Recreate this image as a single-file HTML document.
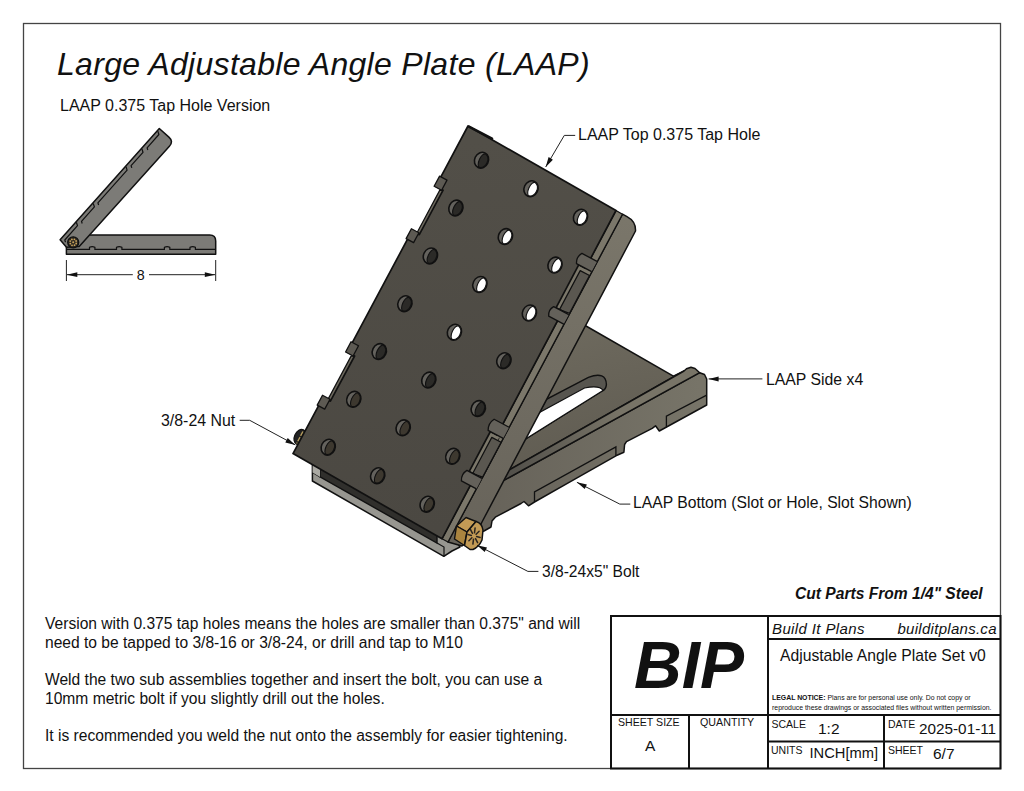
<!DOCTYPE html>
<html><head><meta charset="utf-8">
<style>
html,body{margin:0;padding:0;background:#fff;}
body{width:1024px;height:791px;position:relative;overflow:hidden;font-family:"Liberation Sans",sans-serif;color:#111;}
.t{position:absolute;white-space:nowrap;line-height:1;}
svg{position:absolute;left:0;top:0;}
</style></head><body>
<svg width="1024" height="791" viewBox="0 0 1024 791">
<rect x="23.5" y="23.5" width="977" height="745" fill="none" stroke="#444" stroke-width="1.3"/>
<defs><linearGradient id="bpg" x1="0" y1="0" x2="0.3" y2="1"><stop offset="0" stop-color="#716d61"/><stop offset="1" stop-color="#5f5b51"/></linearGradient><linearGradient id="fg" gradientUnits="userSpaceOnUse" x1="0" y1="140" x2="0" y2="530"><stop offset="0" stop-color="#524f48"/><stop offset="1" stop-color="#4b4842"/></linearGradient><linearGradient id="upg" gradientUnits="userSpaceOnUse" x1="0" y1="220" x2="0" y2="540"><stop offset="0" stop-color="#7a766a"/><stop offset="1" stop-color="#67635a"/></linearGradient><linearGradient id="rfg" gradientUnits="userSpaceOnUse" x1="700" y1="0" x2="490" y2="0"><stop offset="0" stop-color="#777468"/><stop offset="1" stop-color="#67635a"/></linearGradient><linearGradient id="rtg" gradientUnits="userSpaceOnUse" x1="500" y1="0" x2="620" y2="0"><stop offset="0" stop-color="#4f4d48"/><stop offset="1" stop-color="#787467"/></linearGradient></defs>
<polygon points="560.0,312.0 586.0,326.0 673.4,376.2 684.0,371.0 470.0,492.1 440.0,480.0" fill="url(#bpg)" stroke="#111" stroke-width="1.5" stroke-linejoin="round"/>
<path d="M524,440 L546.4,399.3 L588.4,377.3 Q606,371 606.4,384.6 Q606,389 603,390.5 Z" fill="#57554f" stroke="#111" stroke-width="1.4"/>
<path d="M524,440 L538.6,413 L584.5,388 Q600,385 603,390.5 Z" fill="#fff" stroke="#111" stroke-width="1.2"/>
<polygon points="699.7,372.7 704.5,374.5 706.7,379.0 706.7,405.0 659.3,431.0 655.5,425.8 652.2,428.3 626.5,441.6 624.6,444.5 623.9,452.2 615.9,455.8 570.0,481.8 534.5,502.0 528.5,505.8 524.0,501.5 521.0,503.5 495.3,517.2 492.0,521.0 491.0,527.0 484.0,531.0 470.0,535.0 470.0,499.0" fill="url(#rfg)" stroke="#111" stroke-width="1.5" stroke-linejoin="round"/>
<polygon points="684.0,371.0 686.5,368.8 691.0,367.2 695.0,368.5 699.7,372.7 470.0,499.0 470.0,492.1" fill="url(#rtg)" stroke="#111" stroke-width="1.5" stroke-linejoin="round"/>
<polyline points="706.2,395.4 666.4,416.2 666.4,427.4" fill="none" stroke="#111" stroke-width="1.3"/>
<polyline points="615.9,455.8 615.9,446.9 534.5,492.0 534.5,502.0" fill="none" stroke="#111" stroke-width="1.3"/>
<ellipse cx="300" cy="437" rx="5.5" ry="8" transform="rotate(25 300 437)" fill="#222" stroke="#111" stroke-width="1.2"/>
<path d="M303,431.5 L296.8,443.5" fill="none" stroke="#b39a5c" stroke-width="1.6" stroke-dasharray="5,1.2"/>
<polygon points="312.4,465.2 312.4,481.0 443.8,556.3 452.0,551.0 460.0,547.0 450.0,530.0 330.0,462.0" fill="#979690" stroke="#111" stroke-width="1.5" stroke-linejoin="round"/>
<polygon points="320.0,468.0 437.0,534.9 437.0,543.0 320.0,476.9" fill="#302f2c" stroke="#111" stroke-width="1.4"/>
<polyline points="312.6,472.6 320.0,476.9" fill="none" stroke="#111" stroke-width="1.2"/>
<polyline points="437.0,543.0 444.0,547.0 444.0,556.4" fill="none" stroke="#111" stroke-width="1.2"/>
<polygon points="312.6,465.6 320.0,467.5 320.0,476.9 312.6,472.6" fill="#aaa9a3"/>
<path d="M622.5,214.2 L627,216.7 Q636,221.5 635.5,231 L482,522 L475,536 L462,546 L448,542 Z" fill="url(#upg)" stroke="#111" stroke-width="1.5" stroke-linejoin="round"/>
<polygon points="616.0,210.5 622.5,214.2 448.0,542.0 442.0,538.8" fill="#7b776a" stroke="#111" stroke-width="1.3" stroke-linejoin="round"/>
<polygon points="580.6,272.3 587.6,275.3 566.3,313.7 559.3,310.7" fill="#55524b" stroke="#111" stroke-width="1.2" stroke-linejoin="round"/>
<polygon points="492.0,435.0 499.0,438.0 477.0,477.0 470.0,474.0" fill="#55524b" stroke="#111" stroke-width="1.2" stroke-linejoin="round"/>
<polygon points="589.8,266.4 563.5,316.0 553.3,310.6 579.6,261.0" fill="#7b776a"/>
<polygon points="589.5,275.5 569.5,313.3 559.5,309.6 580.2,270.6" fill="#5a5750" stroke="#111" stroke-width="1.2" stroke-linejoin="round"/>
<polygon points="501.4,433.2 476.7,479.8 466.5,474.4 491.2,427.8" fill="#7b776a"/>
<polygon points="501.1,442.3 482.6,477.1 472.7,473.5 491.8,437.4" fill="#5a5750" stroke="#111" stroke-width="1.2" stroke-linejoin="round"/>
<polygon points="439.8,190.1 417.4,232.0 421.3,235.8 445.1,191.2" fill="#6e6a5f" stroke="#111" stroke-width="1.2" stroke-linejoin="round"/>
<polygon points="351.2,355.9 328.5,398.4 332.4,402.2 356.5,357.0" fill="#6e6a5f" stroke="#111" stroke-width="1.2" stroke-linejoin="round"/>
<polygon points="468.0,126.0 616.0,210.5 590.8,258.1 585.4,268.3 578.7,264.8 556.0,307.8 562.6,311.3 557.5,320.8 502.9,423.9 497.0,435.1 490.4,431.5 469.1,471.6 475.8,475.1 470.2,485.6 442.0,538.8 293.0,453.6 318.9,405.1 323.1,397.3 330.4,401.2 354.6,356.0 347.2,352.0 351.6,343.9 407.8,238.7 412.0,230.8 419.3,234.7 443.1,190.2 435.8,186.3 440.2,178.1" fill="url(#fg)" stroke="#111" stroke-width="1.7" stroke-linejoin="round"/>
<polyline points="469.0,126.6 492.0,138.6" fill="none" stroke="#111" stroke-width="2.6" stroke-linecap="round"/>
<path d="M597.0,261.4 L581.9,253.4 Q576.1,256.9 576.5,263.6 L591.6,271.6" fill="#64615a" stroke="#111" stroke-width="1.3" stroke-linejoin="round"/>
<path d="M568.8,314.6 L553.7,306.6 Q548.1,309.7 548.7,316.1 L563.7,324.1" fill="#64615a" stroke="#111" stroke-width="1.3" stroke-linejoin="round"/>
<path d="M509.1,427.2 L494.1,419.2 Q488.0,423.2 488.1,430.4 L503.2,438.3" fill="#64615a" stroke="#111" stroke-width="1.3" stroke-linejoin="round"/>
<path d="M481.9,478.4 L466.9,470.4 Q461.0,474.0 461.4,480.9 L476.4,488.9" fill="#64615a" stroke="#111" stroke-width="1.3" stroke-linejoin="round"/>
<polygon points="439.6,176.1 434.1,186.2 441.6,190.2 447.0,180.1" fill="#5d5a53" stroke="#111" stroke-width="1.3" stroke-linejoin="round"/>
<polygon points="411.4,228.8 406.1,238.6 413.6,242.6 418.9,232.8" fill="#5d5a53" stroke="#111" stroke-width="1.3" stroke-linejoin="round"/>
<polygon points="351.0,341.8 345.6,352.0 353.1,356.0 358.5,345.8" fill="#5d5a53" stroke="#111" stroke-width="1.3" stroke-linejoin="round"/>
<polygon points="322.5,395.2 317.2,405.1 324.7,409.1 330.0,399.2" fill="#5d5a53" stroke="#111" stroke-width="1.3" stroke-linejoin="round"/>
<g transform="translate(481.5,160.2) rotate(25)"><ellipse rx="6.9" ry="8.1" fill="#64625d" stroke="#111" stroke-width="1.6"/><path d="M1.2,-7.4 A6.3,7.6 0 0 1 1.2,7.4 A3.4,7.4 0 0 1 1.2,-7.4 Z" fill="#2b2a27" stroke="#111" stroke-width="1.1"/></g>
<g transform="translate(531.0,188.7) rotate(25)"><ellipse rx="6.9" ry="8.1" fill="#64625d" stroke="#111" stroke-width="1.6"/><path d="M1.2,-7.4 A6.3,7.6 0 0 1 1.2,7.4 A3.4,7.4 0 0 1 1.2,-7.4 Z" fill="#fff" stroke="#111" stroke-width="1.1"/></g>
<g transform="translate(580.5,217.2) rotate(25)"><ellipse rx="6.9" ry="8.1" fill="#64625d" stroke="#111" stroke-width="1.6"/><path d="M1.2,-7.4 A6.3,7.6 0 0 1 1.2,7.4 A3.4,7.4 0 0 1 1.2,-7.4 Z" fill="#fff" stroke="#111" stroke-width="1.1"/></g>
<g transform="translate(455.9,208.0) rotate(25)"><ellipse rx="6.9" ry="8.1" fill="#64625d" stroke="#111" stroke-width="1.6"/><path d="M1.2,-7.4 A6.3,7.6 0 0 1 1.2,7.4 A3.4,7.4 0 0 1 1.2,-7.4 Z" fill="#2b2a27" stroke="#111" stroke-width="1.1"/></g>
<g transform="translate(505.4,236.5) rotate(25)"><ellipse rx="6.9" ry="8.1" fill="#64625d" stroke="#111" stroke-width="1.6"/><path d="M1.2,-7.4 A6.3,7.6 0 0 1 1.2,7.4 A3.4,7.4 0 0 1 1.2,-7.4 Z" fill="#fff" stroke="#111" stroke-width="1.1"/></g>
<g transform="translate(555.0,265.0) rotate(25)"><ellipse rx="6.9" ry="8.1" fill="#64625d" stroke="#111" stroke-width="1.6"/><path d="M1.2,-7.4 A6.3,7.6 0 0 1 1.2,7.4 A3.4,7.4 0 0 1 1.2,-7.4 Z" fill="#fff" stroke="#111" stroke-width="1.1"/></g>
<g transform="translate(430.4,255.9) rotate(25)"><ellipse rx="6.9" ry="8.1" fill="#64625d" stroke="#111" stroke-width="1.6"/><path d="M1.2,-7.4 A6.3,7.6 0 0 1 1.2,7.4 A3.4,7.4 0 0 1 1.2,-7.4 Z" fill="#2b2a27" stroke="#111" stroke-width="1.1"/></g>
<g transform="translate(479.9,284.4) rotate(25)"><ellipse rx="6.9" ry="8.1" fill="#64625d" stroke="#111" stroke-width="1.6"/><path d="M1.2,-7.4 A6.3,7.6 0 0 1 1.2,7.4 A3.4,7.4 0 0 1 1.2,-7.4 Z" fill="#fff" stroke="#111" stroke-width="1.1"/></g>
<g transform="translate(529.4,312.9) rotate(25)"><ellipse rx="6.9" ry="8.1" fill="#64625d" stroke="#111" stroke-width="1.6"/><path d="M1.2,-7.4 A6.3,7.6 0 0 1 1.2,7.4 A3.4,7.4 0 0 1 1.2,-7.4 Z" fill="#fff" stroke="#111" stroke-width="1.1"/></g>
<g transform="translate(404.9,303.7) rotate(25)"><ellipse rx="6.9" ry="8.1" fill="#64625d" stroke="#111" stroke-width="1.6"/><path d="M1.2,-7.4 A6.3,7.6 0 0 1 1.2,7.4 A3.4,7.4 0 0 1 1.2,-7.4 Z" fill="#2b2a27" stroke="#111" stroke-width="1.1"/></g>
<g transform="translate(454.4,332.2) rotate(25)"><ellipse rx="6.9" ry="8.1" fill="#64625d" stroke="#111" stroke-width="1.6"/><path d="M1.2,-7.4 A6.3,7.6 0 0 1 1.2,7.4 A3.4,7.4 0 0 1 1.2,-7.4 Z" fill="#fff" stroke="#111" stroke-width="1.1"/></g>
<g transform="translate(503.9,360.7) rotate(25)"><ellipse rx="6.9" ry="8.1" fill="#64625d" stroke="#111" stroke-width="1.6"/><path d="M1.2,-7.4 A6.3,7.6 0 0 1 1.2,7.4 A3.4,7.4 0 0 1 1.2,-7.4 Z" fill="#2b2a27" stroke="#111" stroke-width="1.1"/></g>
<g transform="translate(379.3,351.5) rotate(25)"><ellipse rx="6.9" ry="8.1" fill="#64625d" stroke="#111" stroke-width="1.6"/><path d="M1.2,-7.4 A6.3,7.6 0 0 1 1.2,7.4 A3.4,7.4 0 0 1 1.2,-7.4 Z" fill="#2b2a27" stroke="#111" stroke-width="1.1"/></g>
<g transform="translate(428.8,380.0) rotate(25)"><ellipse rx="6.9" ry="8.1" fill="#64625d" stroke="#111" stroke-width="1.6"/><path d="M1.2,-7.4 A6.3,7.6 0 0 1 1.2,7.4 A3.4,7.4 0 0 1 1.2,-7.4 Z" fill="#2b2a27" stroke="#111" stroke-width="1.1"/></g>
<g transform="translate(478.3,408.5) rotate(25)"><ellipse rx="6.9" ry="8.1" fill="#64625d" stroke="#111" stroke-width="1.6"/><path d="M1.2,-7.4 A6.3,7.6 0 0 1 1.2,7.4 A3.4,7.4 0 0 1 1.2,-7.4 Z" fill="#2b2a27" stroke="#111" stroke-width="1.1"/></g>
<g transform="translate(353.8,399.3) rotate(25)"><ellipse rx="6.9" ry="8.1" fill="#64625d" stroke="#111" stroke-width="1.6"/><path d="M1.2,-7.4 A6.3,7.6 0 0 1 1.2,7.4 A3.4,7.4 0 0 1 1.2,-7.4 Z" fill="#3d382f" stroke="#111" stroke-width="1.1"/></g>
<g transform="translate(403.2,427.8) rotate(25)"><ellipse rx="6.9" ry="8.1" fill="#64625d" stroke="#111" stroke-width="1.6"/><path d="M1.2,-7.4 A6.3,7.6 0 0 1 1.2,7.4 A3.4,7.4 0 0 1 1.2,-7.4 Z" fill="#3d382f" stroke="#111" stroke-width="1.1"/></g>
<g transform="translate(452.8,456.3) rotate(25)"><ellipse rx="6.9" ry="8.1" fill="#64625d" stroke="#111" stroke-width="1.6"/><path d="M1.2,-7.4 A6.3,7.6 0 0 1 1.2,7.4 A3.4,7.4 0 0 1 1.2,-7.4 Z" fill="#3d382f" stroke="#111" stroke-width="1.1"/></g>
<g transform="translate(328.2,447.2) rotate(25)"><ellipse rx="6.9" ry="8.1" fill="#64625d" stroke="#111" stroke-width="1.6"/><path d="M1.2,-7.4 A6.3,7.6 0 0 1 1.2,7.4 A3.4,7.4 0 0 1 1.2,-7.4 Z" fill="#3d382f" stroke="#111" stroke-width="1.1"/></g>
<g transform="translate(377.7,475.7) rotate(25)"><ellipse rx="6.9" ry="8.1" fill="#64625d" stroke="#111" stroke-width="1.6"/><path d="M1.2,-7.4 A6.3,7.6 0 0 1 1.2,7.4 A3.4,7.4 0 0 1 1.2,-7.4 Z" fill="#3d382f" stroke="#111" stroke-width="1.1"/></g>
<g transform="translate(427.2,504.2) rotate(25)"><ellipse rx="6.9" ry="8.1" fill="#64625d" stroke="#111" stroke-width="1.6"/><path d="M1.2,-7.4 A6.3,7.6 0 0 1 1.2,7.4 A3.4,7.4 0 0 1 1.2,-7.4 Z" fill="#3d382f" stroke="#111" stroke-width="1.1"/></g>
<polygon points="456.5,526.0 466.0,517.5 476.0,521.5 467.0,532.0" fill="#c29a55" stroke="#111" stroke-width="1.4" stroke-linejoin="round"/>
<polygon points="456.5,526.0 467.0,532.0 464.5,545.5 454.5,539.0" fill="#a9843f" stroke="#111" stroke-width="1.4" stroke-linejoin="round"/>
<path d="M467,532 L476,521.5 Q482,523 483,530 L482,540 Q479,547 473,549.5 L470,549.5 L464.5,545.5 Z" fill="#c29a55" stroke="#111" stroke-width="1.5" stroke-linejoin="round"/>
<line x1="476.6" y1="536.6" x2="480.1" y2="537.4" stroke="#2a2520" stroke-width="1.5" stroke-linecap="round"/>
<line x1="475.5" y1="538.6" x2="477.6" y2="542.7" stroke="#2a2520" stroke-width="1.5" stroke-linecap="round"/>
<line x1="473.5" y1="539.2" x2="472.9" y2="544.1" stroke="#2a2520" stroke-width="1.5" stroke-linecap="round"/>
<line x1="471.9" y1="537.8" x2="468.9" y2="540.7" stroke="#2a2520" stroke-width="1.5" stroke-linecap="round"/>
<line x1="471.4" y1="535.4" x2="467.9" y2="534.6" stroke="#2a2520" stroke-width="1.5" stroke-linecap="round"/>
<line x1="472.5" y1="533.4" x2="470.4" y2="529.3" stroke="#2a2520" stroke-width="1.5" stroke-linecap="round"/>
<line x1="474.5" y1="532.8" x2="475.1" y2="527.9" stroke="#2a2520" stroke-width="1.5" stroke-linecap="round"/>
<line x1="476.1" y1="534.2" x2="479.1" y2="531.3" stroke="#2a2520" stroke-width="1.5" stroke-linecap="round"/>
<polyline points="575.2,135.4 564.3,135.4 545.7,167.0" fill="none" stroke="#222" stroke-width="1"/><polygon points="545.7,167.0 548.6,157.1 552.9,159.7" fill="#111"/>
<polyline points="762.4,378.9 708.6,378.9" fill="none" stroke="#222" stroke-width="1"/><polygon points="708.6,378.9 718.6,376.4 718.6,381.4" fill="#111"/>
<polyline points="239.7,420.3 249.7,420.3 295.3,444.9" fill="none" stroke="#222" stroke-width="1"/><polygon points="295.3,444.9 285.3,442.4 287.7,438.0" fill="#111"/>
<polyline points="630.3,504.1 619.8,504.1 576.9,482.3" fill="none" stroke="#222" stroke-width="1"/><polygon points="576.9,482.3 586.9,484.6 584.7,489.1" fill="#111"/>
<polyline points="538.4,571.4 527.9,571.4 477.0,545.2" fill="none" stroke="#222" stroke-width="1"/><polygon points="477.0,545.2 487.0,547.6 484.7,552.0" fill="#111"/>
<path d="M66.4,234.9 L209.7,234.9 Q215.7,234.9 215.7,240.9 L215.7,254.2 L66.4,254.2 Z" fill="#7c7b77" stroke="#111" stroke-width="1.5" stroke-linejoin="round"/>
<path d="M66.6,249.4 L89.5,249.4 L89.5,247.3 Q92.2,245.8 94.9,247.3 L94.9,249.4 L116.5,249.4 L116.5,247.3 Q119.2,245.8 121.9,247.3 L121.9,249.4 L164.4,249.4 L164.4,247.3 Q167.1,245.8 169.8,247.3 L169.8,249.4 L190.0,249.4 L190.0,247.3 Q192.7,245.8 195.4,247.3 L195.4,249.4 L215.5,249.4" fill="none" stroke="#111" stroke-width="1.2"/>
<path d="M60.1,239.8 L159.3,128.5 L168.9,137.1 Q173.8,141.4 169.4,146.3 L79.2,246.4 L66.5,247.2 Z" fill="#7c7b77" stroke="#111" stroke-width="1.5" stroke-linejoin="round"/>
<polyline points="157.8,131.1 158.9,134.5 147.1,147.8 147.8,150.0" fill="none" stroke="#111" stroke-width="1.2" stroke-linejoin="round"/>
<polyline points="141.9,148.9 143.0,152.3 131.1,165.7 131.8,167.9" fill="none" stroke="#111" stroke-width="1.2" stroke-linejoin="round"/>
<polyline points="126.0,166.7 127.1,170.1 97.9,202.8 98.6,205.0" fill="none" stroke="#111" stroke-width="1.2" stroke-linejoin="round"/>
<polyline points="93.2,203.4 94.4,206.8 81.5,221.3 82.2,223.5" fill="none" stroke="#111" stroke-width="1.2" stroke-linejoin="round"/>
<polyline points="76.4,222.3 77.5,225.7 64.8,240.0 65.5,242.2" fill="none" stroke="#111" stroke-width="1.2" stroke-linejoin="round"/>
<circle cx="73.2" cy="242.3" r="5.5" fill="#2f2a22" stroke="#111" stroke-width="1.3"/>
<circle cx="76.2" cy="243.5" r="0.9" fill="#c9a35c"/>
<circle cx="74.5" cy="245.2" r="0.9" fill="#c9a35c"/>
<circle cx="72.0" cy="245.3" r="0.9" fill="#c9a35c"/>
<circle cx="70.3" cy="243.6" r="0.9" fill="#c9a35c"/>
<circle cx="70.2" cy="241.1" r="0.9" fill="#c9a35c"/>
<circle cx="71.9" cy="239.4" r="0.9" fill="#c9a35c"/>
<circle cx="74.4" cy="239.3" r="0.9" fill="#c9a35c"/>
<circle cx="76.1" cy="241.0" r="0.9" fill="#c9a35c"/>
<circle cx="73.2" cy="242.3" r="1" fill="#c9a35c"/>
<g stroke="#222" stroke-width="1" fill="none"><line x1="66.4" y1="260" x2="66.4" y2="281"/><line x1="215.7" y1="260" x2="215.7" y2="281"/><line x1="67" y1="274.7" x2="132.8" y2="274.7"/><line x1="149" y1="274.7" x2="215" y2="274.7"/></g>
<polygon points="66.8,274.7 77.3,272.3 77.3,277.1" fill="#111"/><polygon points="215.3,274.7 204.8,272.3 204.8,277.1" fill="#111"/>
<text x="140.8" y="279.8" font-family="Liberation Sans" font-size="14.3" text-anchor="middle" fill="#111">8</text>
<!-- title block -->
<g fill="none" stroke="#111" stroke-width="2">
<rect x="611" y="616" width="389.5" height="152.5"/>
<line x1="768" y1="616" x2="768" y2="768.5"/>
<line x1="611" y1="715" x2="1000.5" y2="715"/>
<line x1="768" y1="639" x2="1000.5" y2="639"/>
<line x1="689" y1="715" x2="689" y2="768.5"/>
<line x1="768" y1="741.5" x2="1000.5" y2="741.5"/>
<line x1="884" y1="715" x2="884" y2="768.5"/>
</g>
</svg>
<div class="t" style="left:57px;top:48px;font-size:32px;letter-spacing:0.3px;font-style:italic;">Large Adjustable Angle Plate (LAAP)</div>
<div class="t" style="left:60px;top:98px;font-size:16px;">LAAP 0.375 Tap Hole Version</div>
<div class="t" style="left:578px;top:127px;font-size:16px;">LAAP Top 0.375 Tap Hole</div>
<div class="t" style="left:766px;top:372px;font-size:15.8px;">LAAP Side x4</div>
<div class="t" style="left:161px;top:413px;font-size:15.9px;">3/8-24 Nut</div>
<div class="t" style="left:633px;top:495px;font-size:15.7px;">LAAP Bottom (Slot or Hole, Slot Shown)</div>
<div class="t" style="left:542px;top:564px;font-size:15.6px;">3/8-24x5" Bolt</div>
<div class="t" style="left:795px;top:585.8px;font-size:15.6px;font-weight:bold;font-style:italic;">Cut Parts From 1/4" Steel</div>
<div class="t" style="left:45px;top:616px;font-size:15.6px;">Version with 0.375 tap holes means the holes are smaller than 0.375" and will</div>
<div class="t" style="left:45px;top:634.8px;font-size:15.6px;">need to be tapped to 3/8-16 or 3/8-24, or drill and tap to M10</div>
<div class="t" style="left:45px;top:671.8px;font-size:15.6px;">Weld the two sub assemblies together and insert the bolt, you can use a</div>
<div class="t" style="left:45px;top:690.6px;font-size:15.6px;">10mm metric bolt if you slightly drill out the holes.</div>
<div class="t" style="left:45px;top:727.8px;font-size:15.6px;">It is recommended you weld the nut onto the assembly for easier tightening.</div>
<div class="t" style="left:634px;top:632px;font-size:66px;font-weight:bold;font-style:italic;">BIP</div>
<div class="t" style="left:772px;top:621px;font-size:15px;letter-spacing:0.38px;font-style:italic;">Build It Plans</div>
<div class="t" style="left:897.5px;top:621px;font-size:15px;letter-spacing:0.28px;font-style:italic;">builditplans.ca</div>
<div class="t" style="left:780px;top:648.4px;font-size:15.7px;">Adjustable Angle Plate Set v0</div>
<div class="t" style="left:772px;top:695.4px;font-size:6.9px;"><b>LEGAL NOTICE:</b> Plans are for personal use only. Do not copy or</div>
<div class="t" style="left:772px;top:704.8px;font-size:6.9px;">reproduce these drawings or associated files without written permission.</div>
<div class="t" style="left:618px;top:716.8px;font-size:10.6px;">SHEET SIZE</div>
<div class="t" style="left:700px;top:716.8px;font-size:10.7px;">QUANTITY</div>
<div class="t" style="left:645px;top:738.1px;font-size:15.5px;">A</div>
<div class="t" style="left:771.5px;top:719.4px;font-size:10.5px;">SCALE</div>
<div class="t" style="left:818px;top:721px;font-size:15.5px;">1:2</div>
<div class="t" style="left:888px;top:719.4px;font-size:10.5px;">DATE</div>
<div class="t" style="left:919px;top:721.1px;font-size:15.3px;">2025-01-11</div>
<div class="t" style="left:771px;top:744.5px;font-size:10.5px;">UNITS</div>
<div class="t" style="left:809.5px;top:746.3px;font-size:14.7px;">INCH[mm]</div>
<div class="t" style="left:888px;top:744.5px;font-size:10.5px;">SHEET</div>
<div class="t" style="left:933px;top:745.6px;font-size:15.5px;">6/7</div>
</body></html>
